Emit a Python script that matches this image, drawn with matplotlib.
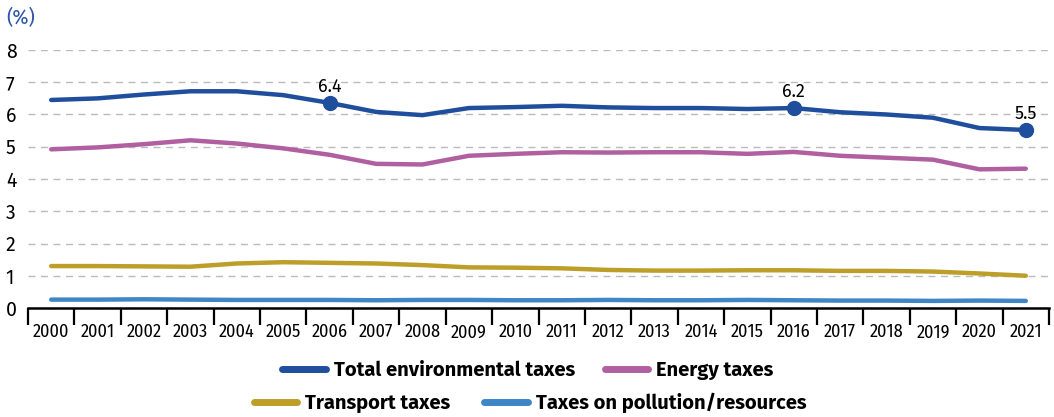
import matplotlib
matplotlib.use("Agg")
import matplotlib.pyplot as plt
from matplotlib.lines import Line2D
import numpy as np

COND = ["Fira Sans Condensed", "Liberation Sans Narrow", "DejaVu Sans"]
REG = ["Fira Sans", "Open Sans", "DejaVu Sans"]
plt.rcParams["font.family"] = COND

# ---------------------------------------------------------------------------
# Data (% of GDP)
# ---------------------------------------------------------------------------
years = list(range(2000, 2022))
total = [6.45, 6.50, 6.62, 6.72, 6.72, 6.60, 6.36, 6.08, 5.98, 6.20, 6.23,
         6.27, 6.22, 6.20, 6.20, 6.17, 6.20, 6.07, 6.00, 5.90, 5.58, 5.52]
energy = [4.92, 4.98, 5.08, 5.20, 5.10, 4.95, 4.75, 4.47, 4.45, 4.72, 4.78,
          4.83, 4.82, 4.83, 4.83, 4.78, 4.84, 4.72, 4.66, 4.60, 4.30, 4.32]
transport = [1.30, 1.30, 1.29, 1.28, 1.38, 1.42, 1.40, 1.38, 1.33, 1.26, 1.25,
             1.23, 1.18, 1.16, 1.16, 1.17, 1.17, 1.15, 1.15, 1.13, 1.07, 1.00]
pollution = [0.26, 0.26, 0.27, 0.26, 0.25, 0.25, 0.25, 0.24, 0.25, 0.25, 0.24,
             0.24, 0.25, 0.24, 0.24, 0.25, 0.24, 0.23, 0.23, 0.22, 0.23, 0.22]
highlight = {2006: "6.4", 2016: "6.2", 2021: "5.5"}

series = [
    ("Total environmental taxes", total, "#1f4e9c"),
    ("Energy taxes", energy, "#b05fa0"),
    ("Transport taxes", transport, "#bc9e28"),
    ("Taxes on pollution/resources", pollution, "#3f86c6"),
]

fig = plt.figure(figsize=(10.54, 4.17), dpi=100)
ax = fig.add_axes([28 / 1054, 1 - 308 / 417, 1021 / 1054, 258 / 417])

x = np.arange(len(years))
for name, vals, col in series[::-1]:
    ax.plot(x, vals, color=col, lw=3.2, solid_capstyle="round",
            solid_joinstyle="round", label=name)

for yr, lab in highlight.items():
    i = years.index(yr)
    ax.plot(x[i], total[i], "o", color="#1f4e9c", ms=10, clip_on=False)
    ax.text(x[i], total[i] + 0.22, lab, ha="center", va="bottom",
            fontsize=13, family=REG)

ax.set_xlim(-0.5, len(years) - 0.5)
ax.set_ylim(0, 8)
ax.set_yticks(range(0, 9))
ax.set_xticks(x)
ax.set_xticklabels([str(y) for y in years], fontsize=13)
ax.set_xticks(np.arange(-0.5, len(years)), minor=True)
ax.tick_params(axis="x", which="major", length=0, pad=11)
ax.tick_params(axis="x", which="minor", length=12, width=1.6, color="black")
ax.tick_params(axis="y", length=0, pad=16, labelsize=14)
for t in ax.get_yticklabels():
    t.set_family(REG)
    t.set_horizontalalignment("left")

ax.grid(axis="y", color="#bbbbbb", ls=(0, (5, 4)), lw=1)
ax.set_axisbelow(True)
for s in ["left", "right", "top"]:
    ax.spines[s].set_visible(False)
ax.spines["bottom"].set_linewidth(1.8)

fig.text(6 / 1054, 1 - 18 / 417, "(%)", color="#2e56a6", fontsize=14,
         va="center", ha="left", family=REG)

# Legend: two centred rows
def handles(items):
    return [Line2D([0], [0], color=c, lw=5, solid_capstyle="round") for _, _, c in items]

leg_kw = dict(frameon=False, ncol=2, handlelength=2.15, handletextpad=0.4,
              prop={"weight": "bold", "size": 14.5, "family": REG}, borderaxespad=0)
fig.legend(handles(series[:2]), [s[0] for s in series[:2]],
           loc="center", bbox_to_anchor=(528 / 1054, 1 - 370 / 417),
           columnspacing=1.5, **leg_kw)
fig.legend(handles(series[2:]), [s[0] for s in series[2:]],
           loc="center", bbox_to_anchor=(530 / 1054, 1 - 403 / 417),
           columnspacing=1.7, **leg_kw)

fig.savefig("out.png", dpi=100)
